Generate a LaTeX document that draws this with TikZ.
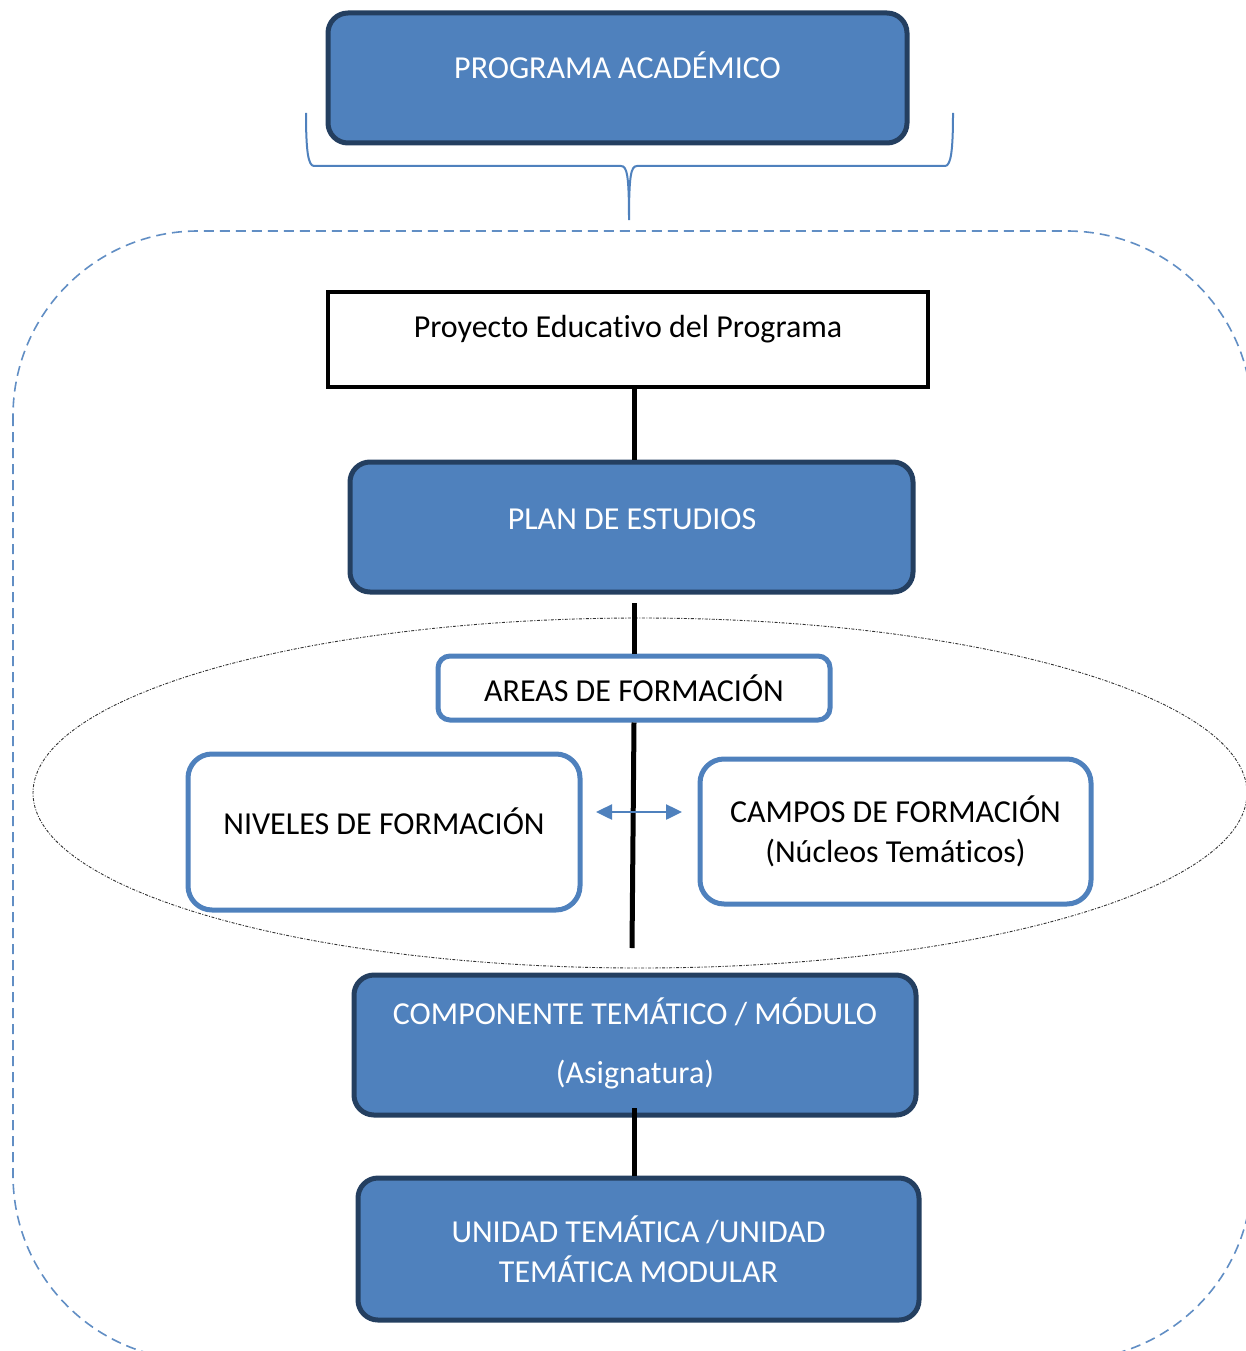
\documentclass[tikz,border=0pt]{standalone}
\usepackage{fontspec}
\setmainfont[Ligatures=NoCommon,RawFeature={-calt;-clig}]{Carlito}
\usetikzlibrary{arrows.meta,calc}
\definecolor{boxblue}{HTML}{4F81BD}
\definecolor{boxdark}{HTML}{243F60}
\begin{document}
\begin{tikzpicture}[x=1pt,y=-1pt,
  font=\fontsize{32}{40}\selectfont,
  fillbox/.style={draw=boxdark, line width=5pt, fill=boxblue, rounded corners=20pt, inner sep=0pt},
  outbox/.style={draw=boxblue, line width=5pt, fill=white, rounded corners=24pt, inner sep=0pt, align=center},
  wtext/.style={text=white, anchor=base, inner sep=0pt},
  btext/.style={text=black, anchor=base, inner sep=0pt},
  conn/.style={draw=black, line width=5pt}]
\useasboundingbox (0,0) rectangle (1246,1351);
\clip (0,0) rectangle (1246,1351);
% outer dashed frame
\draw[boxblue!90, line width=1.6pt, dash pattern=on 10pt off 6pt, rounded corners=185pt] (13,231) rectangle (1252,1360);
% dotted ellipse
\draw[black!80, line width=0.9pt, dash pattern=on 3pt off 1.5pt on 1pt off 1.5pt] (640,793) ellipse [x radius=607, y radius=175];
% top box
\node[fillbox, minimum width=579pt, minimum height=130pt] (prog) at (617.5,78) {};
\node[wtext] (progt) at (617.5,79) {PROGRAMA ACADÉMICO};
% brace
\draw[boxblue, line width=2pt] (306,113) .. controls (306,150) and (308,166) .. (314,166) -- (621,166)
  .. controls (627,166) and (629,175) .. (629,220)
  .. controls (629,175) and (631,166) .. (637,166) -- (945,166)
  .. controls (951,166) and (953,150) .. (953,113);
% Proyecto
\node[draw=black, line width=4pt, fill=white, minimum width=600pt, minimum height=95pt, inner sep=0pt] (proy) at (628,339.5) {};
\node[btext] (proyt) at (628,337) {Proyecto Educativo del Programa};
% Plan
\node[fillbox, minimum width=563pt, minimum height=130pt] (plan) at (631.5,527) {};
\node[wtext] (plant) at (632,529) {PLAN DE ESTUDIOS};
% Areas
\node[outbox, rounded corners=12pt, minimum width=392pt, minimum height=64pt] (areas) at (634,688) {AREAS DE FORMACIÓN};
% Niveles
\node[outbox, minimum width=392pt, minimum height=156pt] (niv) at (384,832) {\raisebox{22pt}{NIVELES DE FORMACIÓN}};
% Campos
\node[outbox, minimum width=391pt, minimum height=145pt] (camp) at (895.5,831.5) {CAMPOS DE FORMACIÓN\\(Núcleos Temáticos)};
% Componente
\node[fillbox, minimum width=562pt, minimum height=140pt] (comp) at (635,1045) {};
\node[wtext] (compt1) at (635,1024) {COMPONENTE TEMÁTICO / MÓDULO};
\node[wtext] (compt2) at (635,1083) {(Asignatura)};
% Unidad
\node[fillbox, minimum width=561pt, minimum height=142pt, align=center, text=white] (unid) at (638.5,1249) {UNIDAD TEMÁTICA /UNIDAD\\TEMÁTICA MODULAR};
% connectors
\coordinate (lineend) at (632,948);
\coordinate (planout) at (634,603);
\coordinate (compout) at (634,1108);
\draw[conn] (proy.south -| planout) -- (plan.north -| planout);
\draw[conn] (planout) -- (areas.north -| planout);
\draw[conn] (areas.south -| planout) -- (lineend);
\draw[conn] (compout) -- (unid.north -| compout);
% double arrow
\coordinate (arrL) at (596,812);
\coordinate (arrR) at (682,812);
\draw[boxblue, line width=2.5pt, {Triangle[length=16pt,width=15pt]}-{Triangle[length=16pt,width=15pt]}] (arrL) -- (arrR);
\end{tikzpicture}
\end{document}
